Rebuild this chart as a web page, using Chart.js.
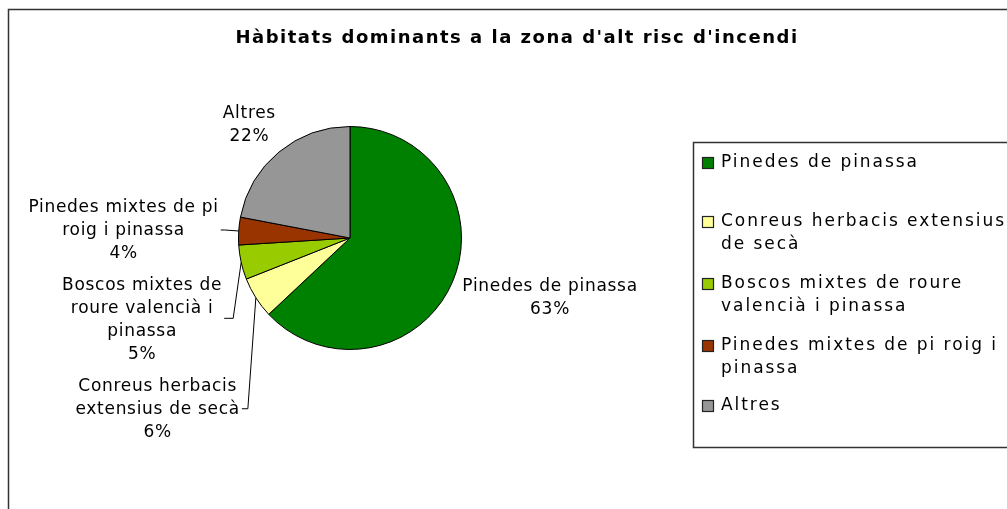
<!DOCTYPE html>
<html>
<head>
<meta charset="utf-8">
<title>Hàbitats dominants</title>
<script src="https://cdn.jsdelivr.net/npm/chart.js@4/dist/chart.umd.min.js"></script>
<style>
  html, body { margin: 0; padding: 0; background: #fff; }
  canvas { display: block; }
</style>
</head>
<body>
<canvas id="habitatChart" width="1007" height="509"></canvas>
<script>
const chartTitle = "Hàbitats dominants a la zona d'alt risc d'incendi";
const categories = [
  'Pinedes de pinassa',
  'Conreus herbacis extensius de secà',
  'Boscos mixtes de roure valencià i pinassa',
  'Pinedes mixtes de pi roig i pinassa',
  'Altres'
];
const percentages = [63, 6, 5, 4, 22];
const sliceColors = ['#008000', '#ffff99', '#99cc00', '#993300', '#969696'];

// where each slice label sits, relative to the arc edge at the slice middle
// side: which edge of the text block touches the anchor; elbow: leader line bend
const labelPlacement = [
  { dx: 10, dy: 4, side: 'left' },
  { dx: -16, dy: 89, side: 'right', elbow: [-8, 111] },
  { dx: -19, dy: 23, side: 'right', elbow: [-8, 56] },
  { dx: -20, dy: -23, side: 'right', elbow: [-14, -1] },
  { dx: -3, dy: -39, side: 'right' }
];

const FONT = '"DejaVu Sans", Verdana, sans-serif';

function wrapWords(ctx, text, maxWidth) {
  const words = text.split(' ');
  const lines = [];
  let line = '';
  words.forEach(w => {
    const test = line ? line + ' ' + w : w;
    if (line && ctx.measureText(test).width > maxWidth) {
      lines.push(line);
      line = w;
    } else {
      line = test;
    }
  });
  if (line) lines.push(line);
  return lines;
}

// outer frame and title
const framePlugin = {
  id: 'frame',
  beforeDraw(chart) {
    const ctx = chart.ctx;
    ctx.save();
    ctx.fillStyle = '#fff';
    ctx.fillRect(0, 0, chart.width, chart.height);
    ctx.strokeStyle = '#333';
    ctx.lineWidth = 1.5;
    ctx.strokeRect(8.5, 9.5, 1016, 520);
    ctx.fillStyle = '#000';
    ctx.font = 'bold 18px ' + FONT;
    ctx.letterSpacing = '1.5px';
    ctx.textAlign = 'center';
    ctx.textBaseline = 'middle';
    ctx.fillText(chartTitle, 517, 38);
    ctx.restore();
  }
};

// slice labels with leader lines
const sliceLabels = {
  id: 'sliceLabels',
  afterDatasetsDraw(chart) {
    const ctx = chart.ctx;
    const arcs = chart.getDatasetMeta(0).data;
    const values = chart.data.datasets[0].data;
    const lineH = 23;
    ctx.save();
    ctx.font = '17px ' + FONT;
    ctx.letterSpacing = '0.7px';
    ctx.fillStyle = '#000';
    ctx.strokeStyle = '#000';
    ctx.lineWidth = 1;
    ctx.textBaseline = 'middle';
    ctx.textAlign = 'center';
    arcs.forEach((arc, i) => {
      const p = labelPlacement[i];
      const mid = (arc.startAngle + arc.endAngle) / 2;
      const ex = arc.x + arc.outerRadius * Math.cos(mid);
      const ey = arc.y + arc.outerRadius * Math.sin(mid);
      const lines = wrapWords(ctx, chart.data.labels[i], 200);
      lines.push(values[i] + '%');
      const blockW = Math.max(...lines.map(l => ctx.measureText(l).width));
      const ax = ex + p.dx;
      const ay = ey + p.dy;
      const cx = p.side === 'left' ? ax + blockW / 2 : ax - blockW / 2;
      lines.forEach((l, k) => ctx.fillText(l, cx, ay + k * lineH));
      if (p.elbow) {
        const bx = ex + p.elbow[0];
        const by = ey + p.elbow[1];
        ctx.beginPath();
        ctx.moveTo(ex, ey);
        ctx.lineTo(bx, by);
        ctx.lineTo(ax + 2, by);
        ctx.stroke();
      }
    });
    ctx.restore();
  }
};

// boxed legend on the right, with wrapped entries
const boxLegend = {
  id: 'boxLegend',
  afterDraw(chart) {
    const ctx = chart.ctx;
    const colors = chart.data.datasets[0].backgroundColor;
    ctx.save();
    ctx.strokeStyle = '#333';
    ctx.lineWidth = 1.5;
    ctx.strokeRect(693.5, 142.5, 330, 305);
    ctx.font = '17px ' + FONT;
    ctx.letterSpacing = '1.95px';
    ctx.textBaseline = 'middle';
    ctx.textAlign = 'left';
    const rows = [163, 222, 284, 346, 406];
    chart.data.labels.forEach((label, i) => {
      const y = rows[i];
      ctx.fillStyle = colors[i];
      ctx.fillRect(702.5, y - 5.5, 11, 11);
      ctx.strokeStyle = '#222';
      ctx.lineWidth = 1.2;
      ctx.strokeRect(702.5, y - 5.5, 11, 11);
      ctx.fillStyle = '#000';
      wrapWords(ctx, label, 290).forEach((l, k) => ctx.fillText(l, 721, y + k * 22.5));
    });
    ctx.restore();
  }
};

new Chart(document.getElementById('habitatChart'), {
  type: 'pie',
  data: {
    labels: categories,
    datasets: [{
      data: percentages,
      backgroundColor: sliceColors,
      borderColor: '#000',
      borderWidth: 1
    }]
  },
  options: {
    responsive: false,
    animation: false,
    layout: { padding: { left: 238, right: 545, top: 126, bottom: 159 } },
    plugins: {
      legend: { display: false },
      title: { display: false },
      tooltip: { enabled: false }
    }
  },
  plugins: [framePlugin, sliceLabels, boxLegend]
});
</script>
</body>
</html>
